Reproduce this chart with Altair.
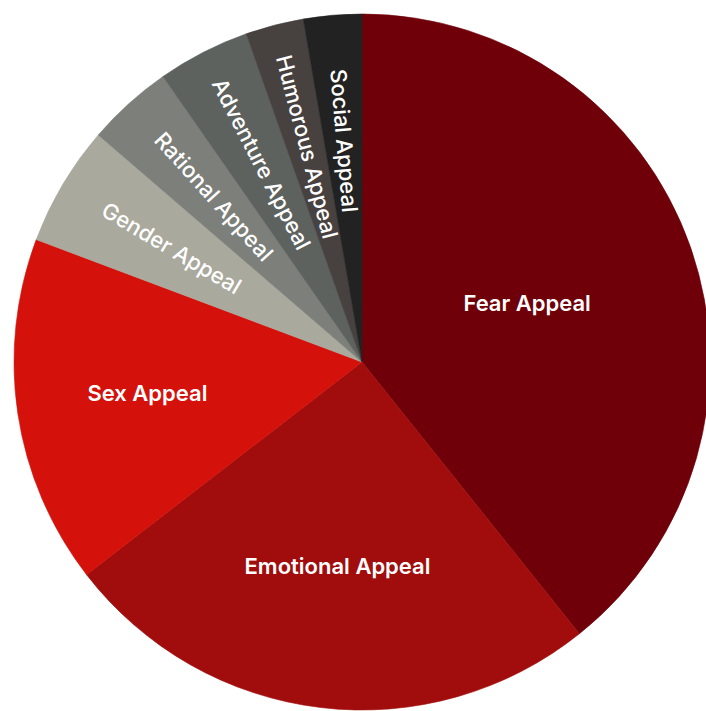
import altair as alt
import pandas as pd

categories = ["Fear Appeal", "Emotional Appeal", "Sex Appeal", "Gender Appeal",
              "Rational Appeal", "Adventure Appeal", "Humorous Appeal", "Social Appeal"]
values = [39.3, 25.3, 16.2, 5.6, 4.0, 4.3, 2.7, 2.7]
colors = ["#6f000a", "#a10d0c", "#d4120b", "#a9a99d",
          "#7d7f7b", "#5e625f", "#474140", "#222222"]

total = sum(values)
rows = []
cum = 0.0
for i, (c, v) in enumerate(zip(categories, values)):
    mid = (cum + v / 2) / total * 360.0
    cum += v
    big = i < 3
    rows.append({
        "cat": c, "val": v, "idx": i,
        "ang": 0.0 if big else (mid + 90.0) % 360.0,
        "lab0": c if i == 0 else "",
        "lab1": c if i == 1 else "",
        "lab2": c if i == 2 else "",
        "small_label": "" if big else c,
    })
df = pd.DataFrame(rows)

cscale = alt.Scale(domain=categories, range=colors)
base = alt.Chart(df).encode(
    theta=alt.Theta("val:Q", stack=True),
    order=alt.Order("idx:Q"),
    color=alt.Color("cat:N", scale=cscale, legend=None),
)

arcs = base.mark_arc(outerRadius=348, strokeWidth=0.6).encode(
    x=alt.value(362), y=alt.value(362),
    stroke=alt.Stroke("cat:N", scale=cscale, legend=None),
)

layers = [arcs]
for field, r in [("lab0", 175), ("lab1", 206), ("lab2", 217)]:
    layers.append(base.mark_text(
        font="Inter", fontSize=22, fontWeight=600, radius=r,
        align="center", baseline="middle",
    ).encode(
        x=alt.value(362), y=alt.value(362),
        text=f"{field}:N",
        color=alt.value("white"),
    ))

layers.append(base.mark_text(
    font="Inter", fontSize=22, fontWeight=500, radius=222,
    align="center", baseline="middle",
).encode(
    x=alt.value(362), y=alt.value(362),
    angle=alt.Angle("ang:Q", scale=None),
    text="small_label:N",
    color=alt.value("white"),
))

chart = alt.layer(*layers).properties(
    width=706, height=711, padding=0, autosize=alt.AutoSizeParams(type="none"),
).configure_view(stroke=None)

chart.save("out.html", embed_options={"renderer": "svg", "actions": False})
